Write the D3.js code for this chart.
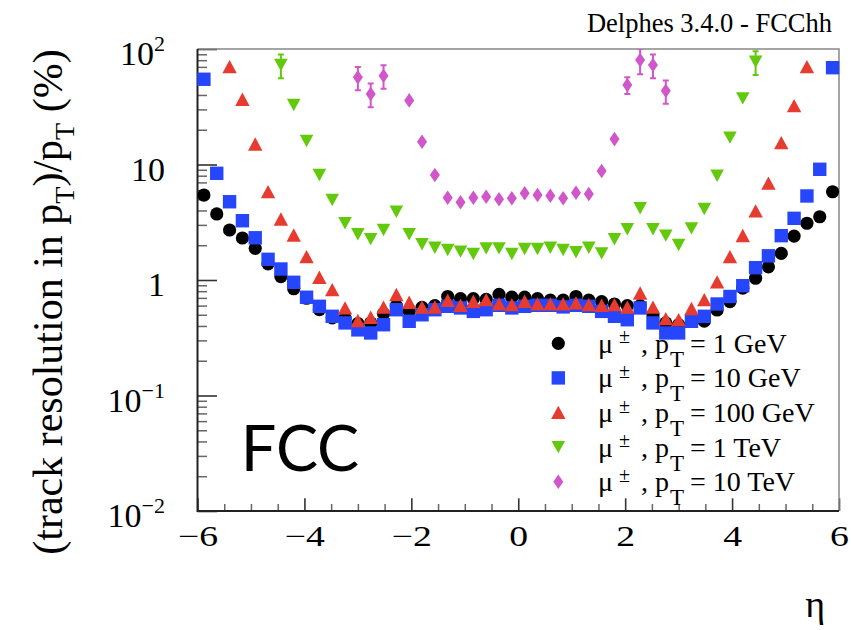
<!DOCTYPE html>
<html>
<head>
<meta charset="utf-8">
<script src="https://cdn.jsdelivr.net/npm/d3@7"></script>
<style>
  body { margin: 0; background: #fff; }
  svg text { font-family: "Liberation Serif", "Times New Roman", serif; }
</style>
</head>
<body>
<svg width="851" height="630"></svg>
<script>
// eta bin centres (50 bins of 0.24 between -6 and 6)
const eta = [-5.88, -5.64, -5.40, -5.16, -4.92, -4.68, -4.44, -4.20, -3.96, -3.72,
  -3.48, -3.24, -3.00, -2.76, -2.52, -2.28, -2.04, -1.80, -1.56, -1.32,
  -1.08, -0.84, -0.60, -0.36, -0.12, 0.12, 0.36, 0.60, 0.84, 1.08,
  1.32, 1.56, 1.80, 2.04, 2.28, 2.52, 2.76, 3.00, 3.24, 3.48,
  3.72, 3.96, 4.20, 4.44, 4.68, 4.92, 5.16, 5.40, 5.64, 5.88]

// resolution in %, null = off scale
const res1GeV = [5.44, 3.73, 2.71, 2.31, 1.88, 1.38, 1.07, 0.84, 0.695, 0.555,
  0.47, 0.47, 0.42, 0.425, 0.51, 0.60, 0.54, 0.58, 0.60, 0.72,
  0.69, 0.69, 0.68, 0.75, 0.71, 0.71, 0.69, 0.67, 0.67, 0.72,
  0.67, 0.65, 0.62, 0.60, 0.60, 0.50, 0.425, 0.41, 0.46, 0.44,
  0.55, 0.65, 0.85, 1.035, 1.30, 1.70, 2.40, 3.10, 3.53, 5.81]

const res10GeV = [54.7, 8.39, 4.76, 3.26, 2.32, 1.51, 1.245, 0.955, 0.709, 0.592,
  0.485, 0.425, 0.37, 0.348, 0.41, 0.553, 0.439, 0.50, 0.553, 0.592,
  0.573, 0.535, 0.553, 0.604, 0.573, 0.592, 0.604, 0.604, 0.585, 0.604,
  0.592, 0.535, 0.485, 0.453, 0.573, 0.425, 0.348, 0.348, 0.439, 0.485,
  0.62, 0.72, 0.893, 1.278, 1.62, 2.42, 3.42, 5.34, 9.09, 68.9]

const res100GeV = [null, null, 70.3, 36.7, 15.0, 5.81, 3.37, 2.45, 1.59, 1.055,
  0.824, 0.573, 0.445, 0.475, 0.581, 0.747, 0.641, 0.583, 0.583, 0.667,
  0.604, 0.654, 0.675, 0.62, 0.611, 0.654, 0.62, 0.62, 0.62, 0.632,
  0.611, 0.604, 0.611, 0.581, 0.771, 0.581, 0.462, 0.453, 0.565, 0.675,
  0.962, 1.59, 2.42, 3.96, 6.88, 15.45, 32.3, 70.3, null, null]

const res1TeV = [null, null, null, null, null, null, 72.7, 32.7, 15.97, 8.11,
  4.93, 3.10, 2.49, 2.26, 2.71, 3.90, 2.49, 2.04, 1.90, 1.82,
  1.76, 1.68, 1.88, 1.88, 1.68, 1.855, 1.855, 1.90, 1.82, 1.74,
  1.90, 1.70, 2.25, 2.75, 4.18, 2.75, 2.42, 2.01, 2.80, 4.12,
  8.0, 17.1, 37.4, 77.6, null, null, null, null, null, null]
const err1TeV = [0, 0, 0, 0, 0, 0, 17, 0, 0, 0,
  0, 0, 0, 0, 0, 0, 0, 0, 0, 0,
  0, 0, 0, 0, 0, 0, 0, 0, 0, 0,
  0, 0, 0, 0, 0, 0, 0, 0, 0, 0,
  0, 0, 0, 18, 0, 0, 0, 0, 0, 0]

const res10TeV = [null, null, null, null, null, null, null, null, null, null,
  null, null, 56.9, 40.8, 58.7, null, 35.9, 15.75, 8.11, 5.16,
  4.71, 5.16, 5.26, 5.0, 5.10, 5.63, 5.45, 5.37, 5.10, 5.70,
  5.55, 8.78, 16.6, 48.8, 80.3, 72.7, 43.5, null, null, null,
  null, null, null, null, null, null, null, null, null, null]
const err10TeV = [0, 0, 0, 0, 0, 0, 0, 0, 0, 0,
  0, 0, 13, 9.5, 13.5, 0, 0, 0, 0, 0,
  0, 0, 0, 0, 0, 0, 0, 0, 0, 0,
  0, 0, 0, 8, 20, 17, 10, 0, 0, 0,
  0, 0, 0, 0, 0, 0, 0, 0, 0, 0]

const legendLabels = ['1 GeV', '10 GeV', '100 GeV', '1 TeV', '10 TeV']

const xMajor = [-6, -4, -2, 0, 2, 4, 6]
const xMinor = [-5.5, -5, -4.5, -3.5, -3, -2.5, -1.5, -1, -0.5, 0.5, 1, 1.5, 2.5, 3, 3.5, 4.5, 5, 5.5]
const yMajor = [0.01, 0.1, 1, 10, 100]
const yMajorBase = ['10', '10', '1', '10', '10']
const yMajorExp = ['\u22122', '\u22121', '', '', '2']
const yMinor = [0.02, 0.03, 0.04, 0.05, 0.06, 0.07, 0.08, 0.09,
  0.2, 0.3, 0.4, 0.5, 0.6, 0.7, 0.8, 0.9,
  2, 3, 4, 5, 6, 7, 8, 9,
  20, 30, 40, 50, 60, 70, 80, 90]

const series = [
  { values: res1GeV, err: null, color: '#000000', shape: 'circle' },
  { values: res10GeV, err: null, color: '#2546fb', shape: 'square' },
  { values: res100GeV, err: null, color: '#e63b2e', shape: 'triUp' },
  { values: res1TeV, err: err1TeV, color: '#62c90c', shape: 'triDown' },
  { values: res10TeV, err: err10TeV, color: '#d056c9', shape: 'diamond' },
]

const plotLeft = 197.5, plotRight = 839, plotTop = 49, plotBottom = 511

const x = d3.scaleLinear().domain([-6, 6]).range([plotLeft, plotRight])
const y = d3.scaleLog().domain([0.01, 100]).range([plotBottom, plotTop])

const shapes = {
  circle: d3.symbol(d3.symbolCircle, Math.PI * 6.6 * 6.6)(),
  square: 'M-6.7,-6.7H6.7V6.7H-6.7Z',
  triUp: 'M0,-6.8L7.2,6.6L-7.2,6.6Z',
  triDown: 'M0,6.2L6.8,-6.2L-6.8,-6.2Z',
  diamond: 'M0,-7.3L5,0L0,7.3L-5,0Z',
}

const svg = d3.select('svg')

svg.append('defs').append('clipPath').attr('id', 'plot')
  .append('rect').attr('x', plotLeft).attr('y', plotTop)
  .attr('width', plotRight - plotLeft).attr('height', plotBottom - plotTop)

// ticks
const xMinorAxis = svg.append('g')
    .attr('transform', `translate(0,${plotBottom})`)
    .call(d3.axisBottom(x).tickValues(xMinor).tickSize(-7).tickFormat(''))
const xMajorAxis = svg.append('g')
    .attr('transform', `translate(0,${plotBottom})`)
    .call(d3.axisBottom(x).tickValues(xMajor).tickSize(-12.7).tickPadding(14.5))
xMajorAxis.selectAll('text')
    .attr('font-size', 29)
    .attr('fill', '#000')
    .attr('transform', 'scale(1.3,1)')

const yMinorAxis = svg.append('g')
    .attr('transform', `translate(${plotLeft},0)`)
    .call(d3.axisLeft(y).tickValues(yMinor).tickSize(-9.5).tickFormat(''))
const yMajorAxis = svg.append('g')
    .attr('transform', `translate(${plotLeft},0)`)
    .call(d3.axisLeft(y).tickValues(yMajor).tickSize(-19.5).tickFormat(''))

svg.selectAll('.domain').remove()
;[xMinorAxis, yMinorAxis].forEach(g => g.selectAll('line').attr('stroke', '#666').attr('stroke-width', 1.5))
;[xMajorAxis, yMajorAxis].forEach(g => g.selectAll('line').attr('stroke', '#333').attr('stroke-width', 1.6))

// y tick labels with exponents
const yLab = svg.append('g').selectAll('text')
    .data(yMajor)
  .join('text')
    .attr('x', 165)
    .attr('y', d => y(d) + 16)
    .attr('text-anchor', 'end')
    .attr('font-size', 34)
yLab.append('tspan').text((d, i) => yMajorBase[i])
yLab.append('tspan')
    .attr('font-size', 22)
    .attr('dy', -14)
    .text((d, i) => yMajorExp[i])

// frame
svg.append('path')
    .attr('d', `M${plotLeft},${plotTop}H${plotRight}V${plotBottom}`)
    .attr('fill', 'none').attr('stroke', '#888').attr('stroke-width', 1.5)
svg.append('path')
    .attr('d', `M${plotLeft},${plotTop}V${plotBottom}H${plotRight}`)
    .attr('fill', 'none').attr('stroke', '#222').attr('stroke-width', 2)

// data
const plot = svg.append('g')
series.forEach(s => {
  const pts = eta.map((e, i) => ({ e, v: s.values[i], err: s.err ? s.err[i] : 0 }))
    .filter(d => d.v != null)
  const g = plot.append('g')
  const withErr = pts.filter(d => d.err > 0)
  const eb = g.append('g').attr('clip-path', 'url(#plot)')
    .attr('stroke', s.color).attr('stroke-width', 2)
  eb.selectAll('line.bar').data(withErr).join('line')
      .attr('class', 'bar')
      .attr('x1', d => x(d.e)).attr('x2', d => x(d.e))
      .attr('y1', d => y(d.v + d.err)).attr('y2', d => y(d.v - d.err))
  eb.selectAll('line.capHi').data(withErr).join('line')
      .attr('class', 'capHi')
      .attr('x1', d => x(d.e) - 3).attr('x2', d => x(d.e) + 3)
      .attr('y1', d => y(d.v + d.err)).attr('y2', d => y(d.v + d.err))
  eb.selectAll('line.capLo').data(withErr).join('line')
      .attr('class', 'capLo')
      .attr('x1', d => x(d.e) - 3).attr('x2', d => x(d.e) + 3)
      .attr('y1', d => y(d.v - d.err)).attr('y2', d => y(d.v - d.err))
  g.selectAll('path').data(pts).join('path')
      .attr('d', shapes[s.shape])
      .attr('transform', d => `translate(${x(d.e)},${y(d.v)})`)
      .attr('fill', s.color)
})

// legend
const legend = svg.append('g').selectAll('g')
    .data(series)
  .join('g')
    .attr('transform', (d, i) => `translate(0,${343.3 + i * 34.6})`)
legend.append('path')
    .attr('d', d => shapes[d.shape])
    .attr('transform', 'translate(558.3,0)')
    .attr('fill', d => d.color)
const lt = legend.append('text').attr('font-size', 28)
lt.append('tspan').attr('x', 598).attr('y', 9.5).text('\u03bc')
lt.append('tspan').attr('x', 619).attr('y', 0).attr('font-size', 20).text('\u00b1')
lt.append('tspan').attr('x', 641).attr('y', 9.5).text(', p')
lt.append('tspan').attr('x', 670).attr('y', 23.5).attr('font-size', 23).text('T')
lt.append('tspan').attr('x', 690).attr('y', 9.5).text((d, i) => '= ' + legendLabels[i])

// titles
svg.append('text')
    .attr('x', 832).attr('y', 32)
    .attr('text-anchor', 'end')
    .attr('font-size', 26.5)
    .text('Delphes 3.4.0 - FCChh')

svg.append('text')
    .attr('x', 825).attr('y', 617)
    .attr('text-anchor', 'end')
    .attr('font-size', 38)
    .text('\u03b7')

const yt = svg.append('text')
    .attr('transform', 'translate(62,302) rotate(-90)')
    .attr('text-anchor', 'middle')
    .attr('font-size', 42)
yt.append('tspan').text('(track resolution in p')
yt.append('tspan').attr('font-size', 28).attr('dy', 12).text('T')
yt.append('tspan').attr('dy', -12).text(')/p')
yt.append('tspan').attr('font-size', 28).attr('dy', 12).text('T')
yt.append('tspan').attr('dy', -12).text(' (%)')

svg.append('text')
    .attr('x', 240.7).attr('y', 470.7)
    .style('font-family', 'Lato, "Noto Sans", sans-serif')
    .attr('font-size', 63)
    .text('FCC')
</script>
</body>
</html>
